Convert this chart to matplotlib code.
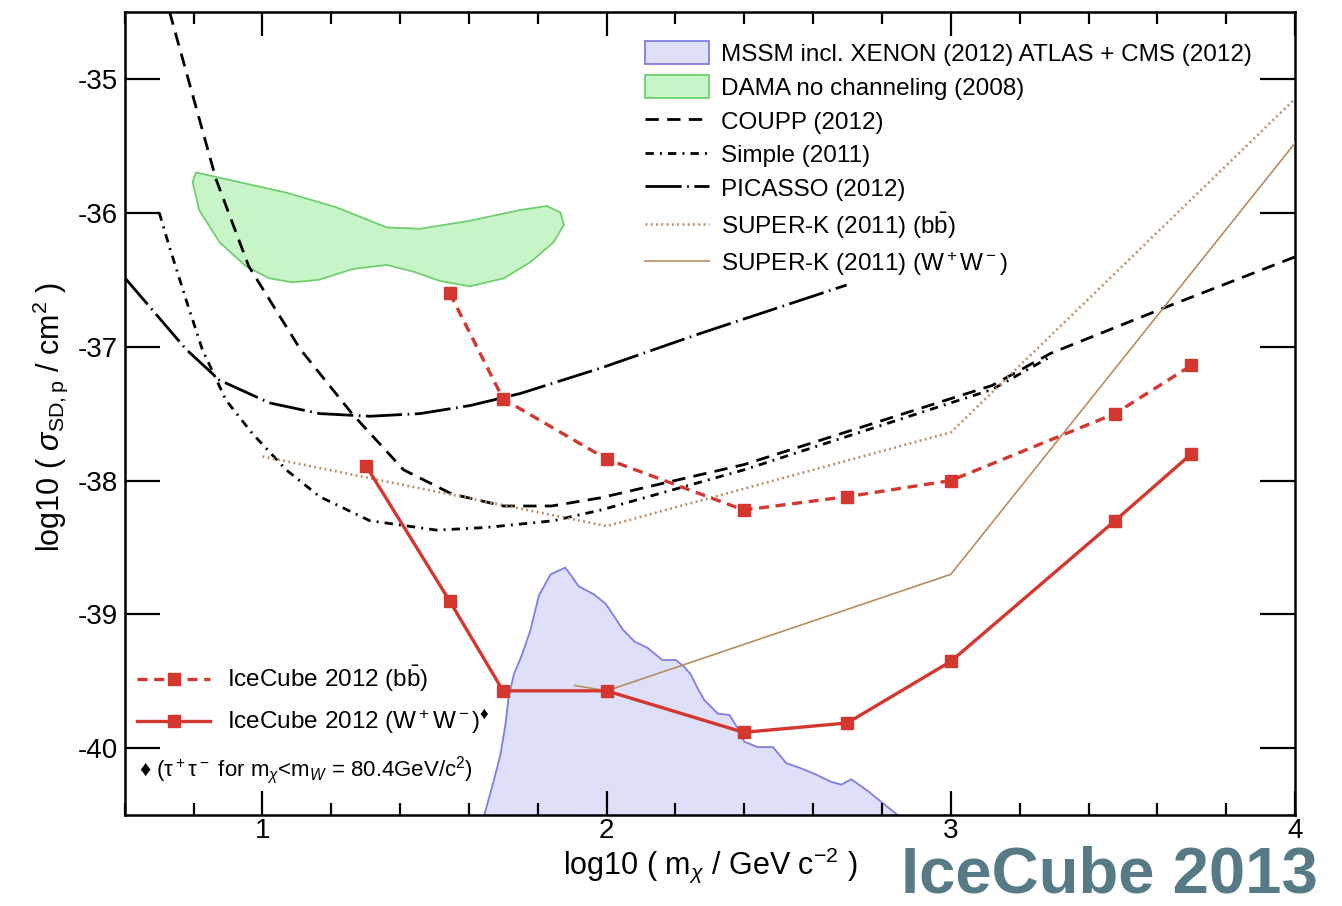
import matplotlib
matplotlib.use("Agg")
import matplotlib.pyplot as plt
import numpy as np
from matplotlib.ticker import MultipleLocator
from matplotlib.patches import Patch
from matplotlib.lines import Line2D

plt.rcParams['font.family'] = ['Liberation Sans', 'DejaVu Sans']
plt.rcParams['mathtext.fontset'] = 'custom'
plt.rcParams['mathtext.rm'] = 'Liberation Sans'
plt.rcParams['mathtext.it'] = 'Liberation Sans:italic'
plt.rcParams['mathtext.bf'] = 'Liberation Sans:bold'
plt.rcParams['axes.unicode_minus'] = False

# ---- data (log10 mass, log10 cross-section) ----
dama_x = [0.807, 1.069, 1.215, 1.361, 1.458, 1.603, 1.749, 1.827, 1.866, 1.876, 1.846, 1.778,
          1.701, 1.603, 1.516, 1.438, 1.361, 1.263, 1.166, 1.088, 1.020, 0.952, 0.875, 0.816, 0.797]
dama_y = [-35.70, -35.85, -35.96, -36.11, -36.12, -36.06, -35.98, -35.95, -36.00, -36.09, -36.22, -36.37,
          -36.49, -36.55, -36.51, -36.44, -36.39, -36.42, -36.50, -36.52, -36.49, -36.40, -36.22, -35.98, -35.77]

mssm_x = [1.642, 1.671, 1.691, 1.706, 1.715, 1.730, 1.754, 1.778, 1.803, 1.837, 1.880, 1.919, 1.963,
          1.997, 2.021, 2.046, 2.080, 2.119, 2.162, 2.201, 2.225, 2.245, 2.264, 2.284, 2.323, 2.357,
          2.381, 2.400, 2.439, 2.483, 2.522, 2.566, 2.604, 2.653, 2.682, 2.711, 2.760, 2.808, 2.847, 2.880]
mssm_y = [-40.52, -40.25, -40.05, -39.82, -39.62, -39.45, -39.30, -39.12, -38.86, -38.70, -38.65, -38.79,
          -38.85, -38.92, -39.01, -39.11, -39.20, -39.25, -39.34, -39.34, -39.39, -39.45, -39.55, -39.64,
          -39.74, -39.75, -39.85, -39.95, -39.99, -39.99, -40.11, -40.15, -40.19, -40.25, -40.27, -40.23,
          -40.32, -40.42, -40.50, -40.60]

coupp_x = [0.73, 0.865, 0.96, 1.11, 1.26, 1.41, 1.55, 1.70, 1.84, 1.98, 2.40, 3.12, 3.29, 3.64, 4.0]
coupp_y = [-34.50, -35.75, -36.40, -37.02, -37.50, -37.92, -38.10, -38.19, -38.19, -38.13, -37.88,
           -37.29, -37.05, -36.69, -36.33]

simple_x = [0.700, 0.729, 0.778, 0.825, 0.894, 0.971, 1.069, 1.166, 1.312, 1.506, 1.652, 1.845,
            1.983, 2.399, 3.120, 3.286]
simple_y = [-36.00, -36.25, -36.65, -37.02, -37.40, -37.65, -37.92, -38.12, -38.30, -38.37, -38.35,
            -38.30, -38.22, -37.92, -37.32, -37.08]

picasso_x = [0.598, 0.778, 0.875, 1.020, 1.166, 1.312, 1.458, 1.603, 1.749, 1.983, 2.274, 2.697]
picasso_y = [-36.48, -37.02, -37.25, -37.42, -37.50, -37.52, -37.50, -37.44, -37.35, -37.16, -36.90, -36.54]

superk_bb_x = [1.0, 2.0, 3.0, 4.0]
superk_bb_y = [-37.82, -38.34, -37.64, -35.15]

superk_ww_x = [1.907, 2.0, 3.0, 4.0]
superk_ww_y = [-39.53, -39.57, -38.70, -35.48]

ic_bb_x = [1.544, 1.699, 2.0, 2.398, 2.699, 3.0, 3.477, 3.699]
ic_bb_y = [-36.60, -37.39, -37.84, -38.22, -38.12, -38.00, -37.50, -37.14]

ic_ww_x = [1.301, 1.544, 1.699, 2.0, 2.398, 2.699, 3.0, 3.477, 3.699]
ic_ww_y = [-37.89, -38.90, -39.57, -39.57, -39.88, -39.81, -39.35, -38.30, -37.80]

# ---- colours / styles ----
red = '#d3372d'
brown = '#b98c62'
green_fill, green_edge = '#c8f5c8', '#6fcf6f'
blue_fill, blue_edge = '#dedff8', '#7f7fe0'
lw_blk = 2.0
coupp_dash = (4.8, 3.0)
simple_dash = (3, 2.2, 0.7, 2.2)
picasso_dash = (13, 2, 0.6, 2)
sk_dot = (0.7, 1.3)
ic_dash = (3, 2)

fig = plt.figure(figsize=(13.42, 9.06), dpi=100)
ax = fig.add_axes([0.093, 0.100, 0.872, 0.887])

ax.fill(mssm_x + [2.880, 1.642], mssm_y + [-41.0, -41.0], facecolor=blue_fill,
        edgecolor=blue_edge, lw=1.3, zorder=1)
ax.fill(dama_x, dama_y, facecolor=green_fill, edgecolor=green_edge, lw=1.3, zorder=1)

ax.plot(coupp_x, coupp_y, color='black', lw=lw_blk, dashes=coupp_dash, zorder=3)
ax.plot(simple_x, simple_y, color='black', lw=lw_blk, dashes=simple_dash, zorder=3)
ax.plot(picasso_x, picasso_y, color='black', lw=lw_blk, dashes=picasso_dash, zorder=3)
ax.plot(superk_bb_x, superk_bb_y, color=brown, lw=1.9, dashes=sk_dot, zorder=3)
ax.plot(superk_ww_x, superk_ww_y, color=brown, lw=1.2, zorder=3)

ax.plot(ic_bb_x, ic_bb_y, color=red, lw=2.4, dashes=ic_dash, marker='s', ms=9, zorder=4)
ax.plot(ic_ww_x, ic_ww_y, color=red, lw=2.4, marker='s', ms=9, zorder=4)

ax.set_xlim(0.6, 4.0)
ax.set_ylim(-40.5, -34.5)
ax.xaxis.set_major_locator(MultipleLocator(1))
ax.xaxis.set_minor_locator(MultipleLocator(0.2))
ax.yaxis.set_major_locator(MultipleLocator(1))
ax.tick_params(which='both', direction='in', top=True, right=True, width=1.6, labelsize=20)
ax.tick_params(axis='x', which='major', length=17, pad=2)
ax.tick_params(axis='x', which='minor', length=8.5)
ax.tick_params(axis='y', which='major', length=25, pad=5)
for s in ax.spines.values():
    s.set_linewidth(1.8)

ax.set_xlabel(r'log10 ( m$_\chi$ / GeV c$^{-2}$ )', fontsize=22, labelpad=1)
ax.set_ylabel(r'log10 ( $\sigma_{\rm SD,p}$ / cm$^2$ )', fontsize=22)
ax.yaxis.set_label_coords(-0.047, 0.496)

handles1 = [
    Patch(facecolor=blue_fill, edgecolor=blue_edge, lw=1.3),
    Patch(facecolor=green_fill, edgecolor=green_edge, lw=1.3),
    Line2D([], [], color='black', lw=lw_blk, dashes=coupp_dash),
    Line2D([], [], color='black', lw=lw_blk, dashes=simple_dash),
    Line2D([], [], color='black', lw=lw_blk, dashes=picasso_dash),
    Line2D([], [], color=brown, lw=1.9, dashes=sk_dot),
    Line2D([], [], color=brown, lw=1.2),
]
labels1 = ['MSSM incl. XENON (2012) ATLAS + CMS (2012)', 'DAMA no channeling (2008)',
           'COUPP (2012)', 'Simple (2011)', 'PICASSO (2012)',
           r'SUPER-K (2011) (b$\bar{\rm b}$)', r'SUPER-K (2011) (W$^+$W$^-$)']
leg1 = ax.legend(handles1, labels1, loc='upper left', bbox_to_anchor=(0.436, 0.976), frameon=False,
                 fontsize=17.5, handlelength=2.63, handleheight=1.1, handletextpad=0.5,
                 labelspacing=0.37, borderaxespad=0)
ax.add_artist(leg1)

handles2 = [Line2D([], [], color=red, lw=2.4, dashes=ic_dash, marker='s', ms=9),
            Line2D([], [], color=red, lw=2.4, marker='s', ms=9)]
labels2 = [r'IceCube 2012 (b$\bar{\rm b}$)', 'IceCube 2012 (W$^+$W$^-$)$^{\u2666}$']
ax.legend(handles2, labels2, loc='upper left', bbox_to_anchor=(0.0025, 0.201), frameon=False,
          fontsize=17.5, handlelength=3.0, handletextpad=0.7, labelspacing=0.55, borderaxespad=0)

ax.text(0.012, 0.056, '\u2666 (\u03c4$^+$\u03c4$^-$ for m$_\chi$<m$_W$ = 80.4GeV/c$^2$)',
        transform=ax.transAxes, fontsize=16, ha='left', va='center')

fig.text(0.982, 0.001, 'IceCube 2013', fontsize=47, fontweight='bold', color='#567b87',
         ha='right', va='bottom')

fig.savefig('out.png', dpi=100)
